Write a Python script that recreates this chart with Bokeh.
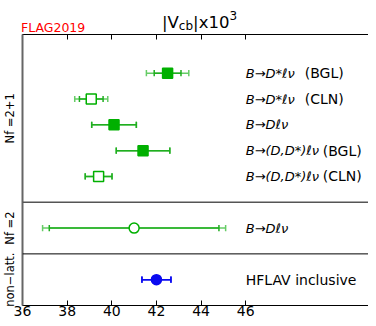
import math
from bokeh.plotting import figure
from bokeh.models import Range1d, LinearAxis, FixedTicker, Span, ColumnDataSource, Div
from bokeh.layouts import column
from bokeh.core.properties import value
from bokeh.embed import file_html
from bokeh.resources import INLINE

# ---------------- data ----------------
label_main = ["B→D*ℓν", "B→D*ℓν", "B→Dℓν", "B→(D,D*)ℓν", "B→(D,D*)ℓν", "B→Dℓν", "HFLAV inclusive"]
label_suffix = ["(BGL)", "(CLN)", "", "(BGL)", "(CLN)", "", ""]
central = [42.5, 39.08, 40.1, 41.4, 39.41, 41.0, 42.0]
err_inner = [0.6, 0.53, 1.0, 1.2, 0.6, 3.8, 0.65]
err_outer = [0.95, 0.74, 1.0, 1.2, 0.6, 4.1, 0.65]
filled = [True, False, True, True, False, False, True]
marker = ["square", "square", "square", "square", "square", "circle", "circle"]
group = ["2+1", "2+1", "2+1", "2+1", "2+1", "2", "non-latt"]
group_text = {"2+1": "Nf =2+1", "2": "Nf =2", "non-latt": "non−latt."}
x_ticks = [36, 38, 40, 42, 44, 46]
title_main = "|V"
title_sub = "cb"
title_mid = "|x10"
title_sup = "3"
logo_text = "FLAG2019"

# ---------------- layout (row positions from group structure) ----------------
row_y = []
sep_y = []
groups = []
for g in group:
    if g not in groups:
        groups.append(g)
group_center = {}
y0 = 0.0
for g in groups:
    idx = [i for i, gg in enumerate(group) if gg == g]
    n = len(idx)
    if n > 1:
        first, height = y0 + 1.5, n + 1.5
        group_center[g] = first + (n - 1) / 2 - 0.25
    else:
        first, height = y0 + 1.0, 2.0
        group_center[g] = y0 + 1.0
    for k, i in enumerate(idx):
        row_y.append(first + k)
    y0 += height
    sep_y.append(y0)
y_total = y0

GREEN = "#00b000"
GREEN_IN = "#1fae1f"
GREEN_OUT = "#66cc66"
BLUE = "#0a0af0"

col_main = [GREEN if g != "non-latt" else BLUE for g in group]
col_in = [GREEN_IN if g != "non-latt" else BLUE for g in group]
col_out = [GREEN_OUT if g != "non-latt" else BLUE for g in group]

p = figure(width=368, height=285, output_backend="svg", toolbar_location=None,
           x_range=Range1d(36, 51.5), y_range=Range1d(y_total, 0),
           min_border_left=22, min_border_right=0, min_border_top=1, min_border_bottom=10)
p.outline_line_color = None
p.xgrid.visible = False
p.ygrid.visible = False
p.background_fill_color = "white"

# bottom axis
p.xaxis.ticker = FixedTicker(ticks=x_ticks)
p.xaxis.major_tick_in = 5
p.xaxis.major_tick_out = 0
p.xaxis.minor_tick_line_color = None
p.xaxis.major_label_standoff = 0
p.xaxis.major_label_text_font = "DejaVu Sans"
p.xaxis.major_label_text_font_size = "14px"
p.xaxis.major_label_text_color = "black"
p.xaxis.axis_line_color = "black"
p.xaxis.major_tick_line_color = "black"

# top axis (ticks only)
top = LinearAxis(ticker=FixedTicker(ticks=x_ticks), major_label_text_font_size="0px",
                 major_label_text_color=None,
                 major_tick_in=5, major_tick_out=0, minor_tick_line_color=None,
                 major_label_standoff=0, axis_line_color="black")
p.add_layout(top, "above")

# left axis: gray line, group names as vertical tick labels
centers = [group_center[g] for g in groups]
p.yaxis.ticker = FixedTicker(ticks=centers)
p.yaxis.major_label_overrides = {group_center[g]: group_text[g] for g in groups}
p.yaxis.major_label_orientation = "parallel"
p.yaxis.major_tick_line_color = None
p.yaxis.major_tick_in = 0
p.yaxis.major_tick_out = 0
p.yaxis.minor_tick_line_color = None
p.yaxis.major_label_text_font = "DejaVu Sans"
p.yaxis.major_label_text_font_size = "11.5px"
p.yaxis.major_label_text_color = "black"
p.yaxis.major_label_standoff = 5
p.yaxis.axis_line_color = "#666666"
p.yaxis.axis_line_width = 2

# separators
p.add_layout(Span(location=sep_y[0], dimension="width", line_color="#555555", line_width=1.5))
p.add_layout(Span(location=sep_y[1], dimension="width", line_color="black", line_width=1))

# error bars
cap = 0.12
src = ColumnDataSource(dict(
    y=row_y, c=central,
    lo_o=[c - e for c, e in zip(central, err_outer)], hi_o=[c + e for c, e in zip(central, err_outer)],
    lo_i=[c - e for c, e in zip(central, err_inner)], hi_i=[c + e for c, e in zip(central, err_inner)],
    yb=[y - cap for y in row_y], yt=[y + cap for y in row_y],
    col_out=col_out, col_in=col_in, col_main=col_main,
    fill=[cm if f else "white" for cm, f in zip(col_main, filled)],
    marker=marker,
))
for a, b in (("lo_o", "hi_o"), ("lo_i", "hi_i")):
    lc = "col_out" if a == "lo_o" else "col_in"
    p.segment(x0=a, x1=b, y0="y", y1="y", line_color=lc, line_width=1.5, source=src)
    p.segment(x0=a, x1=a, y0="yb", y1="yt", line_color=lc, line_width=1.5, source=src)
    p.segment(x0=b, x1=b, y0="yb", y1="yt", line_color=lc, line_width=1.5, source=src)
p.scatter(x="c", y="y", marker="marker", size=10, fill_color="fill", line_color="col_main",
          line_width=1.5, source=src)

# row labels
n_lat = [i for i, g in enumerate(group) if g != "non-latt"]
n_non = [i for i, g in enumerate(group) if g == "non-latt"]
lab_src = ColumnDataSource(dict(x=[46] * len(n_lat), y=[row_y[i] for i in n_lat],
                                t=[label_main[i] for i in n_lat]))
p.text(x="x", y="y", text="t", source=lab_src, text_font=value("DejaVu Sans"),
       text_font_style="italic", text_font_size="13px", text_baseline="middle", text_color="black")
for i in n_lat:
    if label_suffix[i]:
        off = 77 if "(D," in label_main[i] else 59
        p.text(x=[46], y=[row_y[i]], text=[label_suffix[i]], x_offset=off,
               text_font=value("DejaVu Sans"), text_font_size="14px", text_baseline="middle",
               text_color="black")
for i in n_non:
    p.text(x=[46], y=[row_y[i]], text=[label_main[i]], text_font=value("DejaVu Sans"),
           text_font_size="14px", text_baseline="middle", text_color="black")

# header: FLAG logo and title with sub/superscript
header = Div(width=368, height=33, margin=0, text=(
    '<div style="position:relative;width:368px;height:33px;font-family:\'DejaVu Sans\',sans-serif;">'
    '<span style="position:absolute;left:21px;top:21px;color:#ff0000;font-size:12.5px;line-height:13px;'
    'white-space:nowrap;">' + logo_text + '</span>'
    '<span style="position:absolute;left:162px;top:13px;color:#000;font-size:16.5px;line-height:20px;'
    'white-space:nowrap;">' + title_main
    + '<span style="position:relative;top:2px;font-size:12px;">' + title_sub + '</span>'
    + title_mid
    + '<span style="position:relative;top:-8px;font-size:12px;">' + title_sup + '</span>'
    + '</span></div>'))

layout = column(header, p, spacing=0)

open("out.html", "w").write(file_html(layout, INLINE))
